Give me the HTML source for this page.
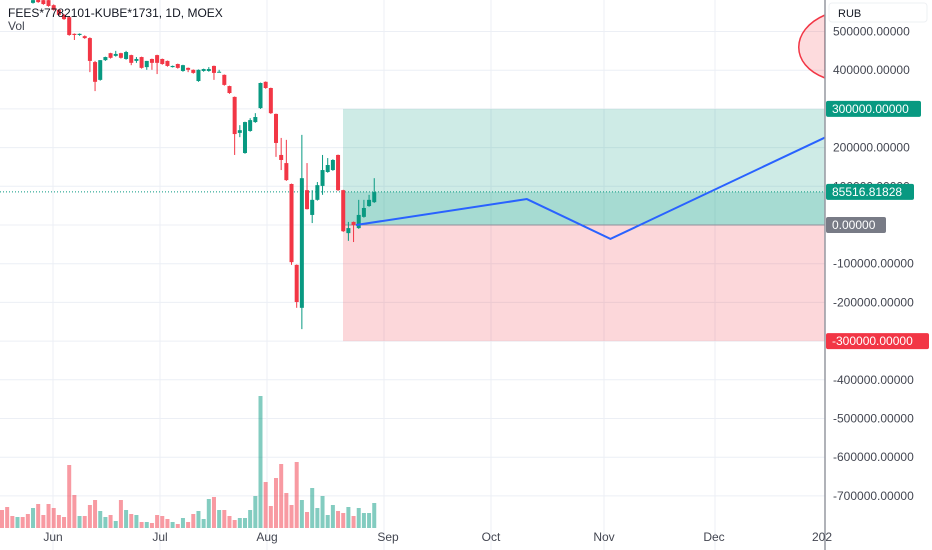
<!DOCTYPE html>
<html><head><meta charset="utf-8">
<style>
html,body{margin:0;padding:0;background:#fff;}
#wrap{position:relative;width:932px;height:550px;overflow:hidden;font-family:"Liberation Sans",sans-serif;}
svg text{font-family:"Liberation Sans",sans-serif;}
</style></head>
<body>
<div id="wrap">
<svg id="chart" width="932" height="550"></svg>
</div>
<script>
// ---- data ----
const opens  = [660,650,640,625,635,615,574,585,581,581,568,556,543,537,494,491,488,483,421,375,426,444,437,444,429,439,424,434,408,429,439,429,424,408,416,398,406,401,372,398,398,411,395,388,359,331,238,186,243,266,302,370,354,287,181,160,106,-103,-214,90,26,65,101,137,142,181,90,-21,8,-8,21,49,59];
const closes = [650,640,630,635,615,600,581,576,571,566,556,543,532,491,491,494,483,424,370,426,434,432,442,432,447,419,429,406,424,419,419,416,411,411,406,413,401,393,401,403,403,393,396,362,341,235,245,266,271,279,367,354,289,212,168,116,-96,-199,121,41,65,103,142,155,168,90,-16,-8,0,26,44,65,85];
const highs  = [670,660,650,640,640,620,590,590,585,583,570,558,545,540,495,495,490,485,424,426,435,445,450,445,450,440,434,435,424,430,440,430,425,412,417,414,407,402,402,404,408,412,401,389,360,332,258,267,276,289,368,371,355,288,225,220,107,-102,233,160,90,111,181,173,170,182,91,8,9,65,65,78,121];
const lows   = [645,635,625,620,610,595,572,574,569,564,554,541,530,489,478,489,481,395,346,373,424,430,435,430,427,413,419,404,401,401,390,414,409,407,404,396,395,391,370,396,396,375,394,360,339,181,227,184,241,264,300,352,287,176,142,114,-103,-214,-269,40,5,63,78,135,140,88,-18,-41,-44,-10,19,47,57];
const volumes= [18,21,12,11,11,14,20,24,13,24,20,13,11,63,33,12,12,23,28,17,11,13,7,28,18,14,13,6,6,5,13,12,9,6,4,10,6,14,17,9,29,31,18,18,12,8,10,10,18,32,132,46,22,50,64,35,23,66,28,16,40,20,32,13,23,17,15,21,12,20,15,15,25];
const priceTicks = [500000,400000,300000,200000,100000,0,-100000,-200000,-300000,-400000,-500000,-600000,-700000];
const monthLabels = ["Jun","Jul","Aug","Sep","Oct","Nov","Dec","202"];
const monthX = [53,160,267,388,491,604,714,822];
const gridX  = [53,160,267,384,491,604,715];
const projDays  = [0,47,70,129];
const projVals  = [0,67000,-36000,226000];
const entry = 0, target = 300000, stop = -300000, lastPrice = 85516.81828;

// ---- scales ----
const y = v => 225 - v*0.000387;
const yk = v => y(v*1000);
const xi = i => 2 + i*5.17;
const xd = d => 356 + d*3.635;
const volY = h => 528 - h;

const NS="http://www.w3.org/2000/svg";
const svg=document.getElementById('chart');
function el(tag,attrs,parent){const e=document.createElementNS(NS,tag);for(const k in attrs)e.setAttribute(k,attrs[k]);(parent||svg).appendChild(e);return e;}

priceTicks.forEach(v=>{
  const g=el('line',{x1:0,x2:825,y1:y(v),y2:y(v),stroke:'#eceff5','stroke-width':1});
  
  
});
gridX.forEach(x=>{
  const g=el('line',{x1:x,x2:x,y1:0,y2:550,stroke:'#eceff5','stroke-width':1});
  
  
});

const boxX=343, boxR=825;
let r=el('rect',{x:boxX,y:y(target),width:boxR-boxX,height:y(entry)-y(target),fill:'rgba(8,153,129,0.2)'});


r=el('rect',{x:boxX,y:y(lastPrice),width:boxR-boxX,height:y(entry)-y(lastPrice),fill:'rgba(8,153,129,0.2)'});


r=el('rect',{x:boxX,y:y(entry),width:boxR-boxX,height:y(stop)-y(entry),fill:'rgba(242,54,69,0.2)'});


r=el('line',{x1:boxX,x2:boxR,y1:y(entry),y2:y(entry),stroke:'#8f8f99','stroke-width':1});



r=el('path',{d:'M825,15 C790,30 790,65 825,78 Z',fill:'rgba(242,54,69,0.18)',stroke:'#f23645','stroke-width':1.5});



volumes.forEach((v,i)=>{
  const up=closes[i]>=opens[i];
  const b=el('rect',{x:xi(i)-2,y:volY(v),width:4,height:v,fill:up?'rgba(8,153,129,0.5)':'rgba(242,54,69,0.5)'});
  
  
});

r=el('line',{x1:0,x2:825,y1:y(lastPrice),y2:y(lastPrice),stroke:'#089981','stroke-width':1,'stroke-dasharray':'1,2'});



opens.forEach((o,i)=>{
  const c=closes[i],up=c>=o,col=up?'#089981':'#f23645',x=xi(i);
  const w=el('line',{x1:x,x2:x,y1:yk(highs[i]),y2:yk(lows[i]),stroke:col,'stroke-width':1});
  
  
  const top=yk(Math.max(o,c)),bot=yk(Math.min(o,c));
  const b=el('rect',{x:x-2,y:top,width:4,height:Math.max(1,bot-top),fill:col});
  
  
});

const pts=projDays.map((d,i)=>xd(d)+','+y(projVals[i])).join(' ');
r=el('polyline',{points:pts,fill:'none',stroke:'#2962ff','stroke-width':2});



r=el('rect',{x:825,y:0,width:107,height:550,fill:'#fff'});


r=el('line',{x1:825,x2:825,y1:0,y2:550,stroke:'#9598a1','stroke-width':1.5});


priceTicks.forEach(v=>{
  const t=el('text',{x:833,y:y(v)+4,'font-size':'12',fill:'#434651'});
  t.textContent=v.toFixed(5);
  
  
});
function badge(v,txt,bg,w,name){
  const g=el('g',{});
  
  
  el('rect',{x:826,y:y(v)-8,width:w,height:16,rx:2,fill:bg},g);
  const t=el('text',{x:832,y:y(v)+4,'font-size':'12',fill:'#fff'},g);
  t.textContent=txt;
}
badge(target,'300000.00000','#089981',95,'target-price-label');
badge(lastPrice,'85516.81828','#089981',88,'last-price-label');
badge(entry,'0.00000','#787b86',60,'entry-price-label');
badge(stop,'-300000.00000','#f23645',103,'stop-price-label');

r=el('rect',{x:829,y:3,width:98,height:19,rx:3,fill:'#fff',stroke:'#eef0f3'});


r=el('text',{x:838,y:17,'font-size':'11',fill:'#131722'});r.textContent='RUB';



monthLabels.forEach((m,i)=>{
  const t=el('text',{x:monthX[i],y:541,'font-size':'12',fill:'#434651','text-anchor':'middle'});
  t.textContent=m;
  
  
});

r=el('text',{x:8,y:17,'font-size':'12',fill:'#131722'});r.textContent='FEES*7782101-KUBE*1731, 1D, MOEX';


r=el('text',{x:8,y:30,'font-size':'12',fill:'#434651'});r.textContent='Vol';


</script>
</body></html>
